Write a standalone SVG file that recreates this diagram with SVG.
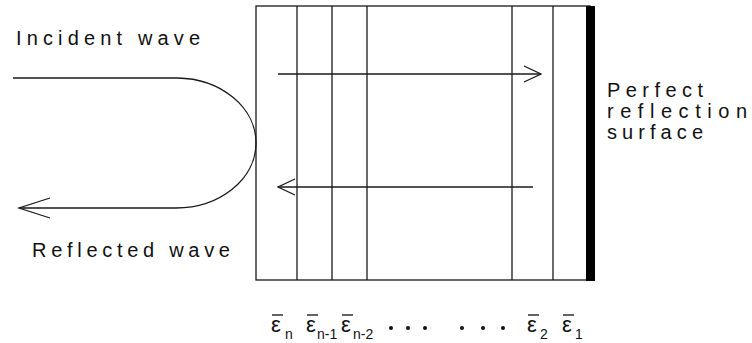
<svg xmlns="http://www.w3.org/2000/svg" width="752" height="343" viewBox="0 0 752 343">
<style>
.ln{stroke:#1a1a1a;stroke-width:1.3;fill:none}
.lbl{font-family:"Liberation Sans",Arial,sans-serif;font-size:20px;fill:#111}
.eps{font-family:"Liberation Sans",Arial,sans-serif;font-size:22px;fill:#111}
.sub{font-family:"Liberation Sans",Arial,sans-serif;font-size:14px;fill:#111}
</style>
<defs>
<marker id="chev" viewBox="0 0 20 20" refX="18" refY="10" markerWidth="20" markerHeight="20" markerUnits="userSpaceOnUse" orient="auto">
<path d="M1,2 L18,10 L1,18" fill="none" stroke="#1a1a1a" stroke-width="1.3"/>
</marker>
<marker id="chevL" viewBox="0 0 34 24" refX="32" refY="12" markerWidth="34" markerHeight="24" markerUnits="userSpaceOnUse" orient="auto">
<path d="M1,2 L32,12 L1,22" fill="none" stroke="#1a1a1a" stroke-width="1.3"/>
</marker>
</defs>
<rect width="752" height="343" fill="#fff"/>
<g id="medium">
<rect x="256" y="6" width="334" height="274" class="ln"/>
<line x1="297" y1="6" x2="297" y2="280" class="ln"/>
<line x1="332" y1="6" x2="332" y2="280" class="ln"/>
<line x1="367" y1="6" x2="367" y2="280" class="ln"/>
<line x1="512" y1="6" x2="512" y2="280" class="ln"/>
<line x1="553" y1="6" x2="553" y2="280" class="ln"/>
</g>
<g id="reflector">
<rect x="586" y="6" width="9" height="275" fill="#000"/>
<text class="lbl" x="607" y="97" textLength="96" lengthAdjust="spacing">Perfect</text>
<text class="lbl" x="607" y="118" textLength="140" lengthAdjust="spacing">reflection</text>
<text class="lbl" x="607" y="139" textLength="96" lengthAdjust="spacing">surface</text>
</g>
<g id="incident">
<text class="lbl" x="16" y="45" textLength="184" lengthAdjust="spacing">Incident wave</text>
</g>
<g id="reflected">
<text class="lbl" x="32" y="257" textLength="198" lengthAdjust="spacing">Reflected wave</text>
</g>
<g id="connectors">
<path d="M13,78 L177,78 A80,65 0 0 1 175,208 L19,208" class="ln" marker-end="url(#chevL)"/>
<line x1="278" y1="74" x2="541" y2="74" class="ln" marker-end="url(#chev)"/>
<line x1="533" y1="187" x2="278" y2="187" class="ln" marker-end="url(#chev)"/>
</g>
<g id="permittivities">
<text class="eps" x="271" y="332">ε</text><text class="sub" x="285" y="339">n</text>
<text class="eps" x="306" y="332">ε</text><text class="sub" x="317" y="339">n-1</text>
<text class="eps" x="341" y="332">ε</text><text class="sub" x="353" y="339">n-2</text>
<text class="eps" x="527" y="332">ε</text><text class="sub" x="540" y="339">2</text>
<text class="eps" x="562" y="332">ε</text><text class="sub" x="575" y="339">1</text>
<g stroke="#111" stroke-width="1.3">
<line x1="272" y1="315" x2="283" y2="315"/>
<line x1="307" y1="315" x2="318" y2="315"/>
<line x1="342" y1="315" x2="353" y2="315"/>
<line x1="528" y1="315" x2="539" y2="315"/>
<line x1="563" y1="315" x2="574" y2="315"/>
</g>
<g fill="#111">
<circle cx="391" cy="328" r="2"/>
<circle cx="408" cy="328" r="2"/>
<circle cx="425" cy="328" r="2"/>
<circle cx="462" cy="328" r="2"/>
<circle cx="483" cy="328" r="2"/>
<circle cx="503" cy="328" r="2"/>
</g>
</g>
</svg>
